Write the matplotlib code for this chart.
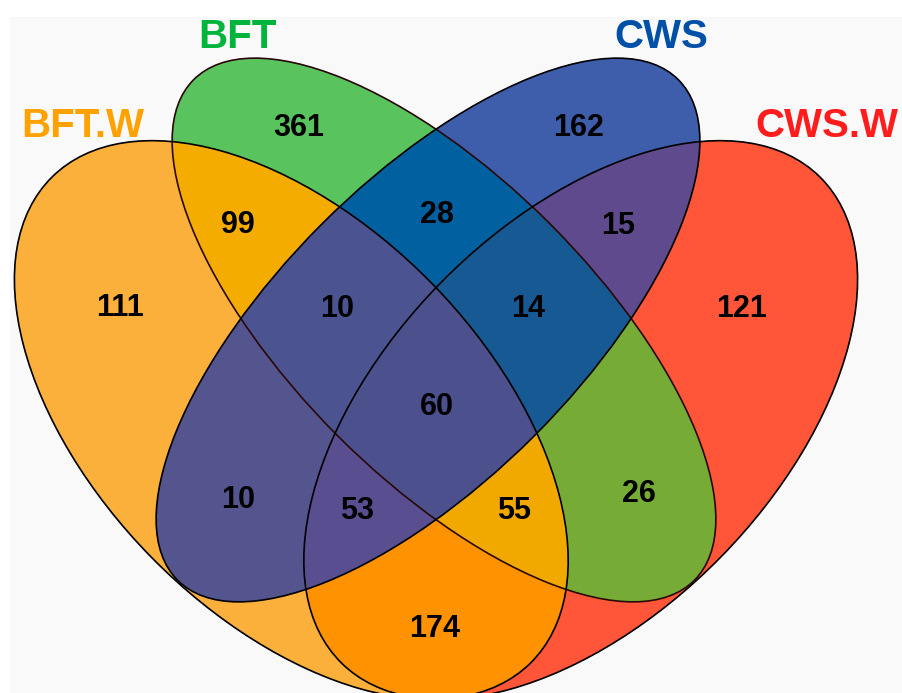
import numpy as np
import matplotlib
matplotlib.use("Agg")
import matplotlib.pyplot as plt
from matplotlib.patches import Ellipse, Rectangle
from matplotlib.colors import to_rgba

# ---------------- data ----------------
set_names = ["BFT.W", "BFT", "CWS", "CWS.W"]
set_label_colors = ["#FFA200", "#00B43C", "#0050A8", "#FF1C1C"]

# membership bits: (BFT.W, BFT, CWS, CWS.W)
region_keys = ["1000", "0100", "0010", "0001",
               "1100", "0110", "0011", "1010", "1001", "0101",
               "1110", "0111", "1111", "1011", "1101"]
region_counts = [111, 361, 162, 121,
                 99, 28, 15, 10, 174, 26,
                 10, 14, 60, 53, 55]
region_colors = ["#FCB03C", "#5AC45E", "#3E5EAC", "#FF563A",
                 "#F4AC00", "#0060A0", "#5F4A8C", "#54548F", "#FF9200", "#77AC36",
                 "#4B5490", "#175A93", "#4C528E", "#5A4E8F", "#F2A900"]

# ---------------- layout (pixel space) ----------------
W, H = 902, 693
ell_cx = [291.3, 444.0, 428.0, 580.7]
ell_cy = [420.0, 330.0, 330.0, 420.0]
ell_a = [341.0, 354.0, 354.0, 341.0]
ell_b = [196.0, 150.0, 150.0, 196.0]
ell_ang = [45.5, 45.0, -45.0, -45.5]
edge_colors = ["#000000", "#2a0808", "#000000", "#000000"]

label_xy = [(120, 305), (299, 125), (579, 125), (742, 306),
            (238, 222), (437, 212), (618, 223), (238, 497), (435, 626), (639, 491),
            (337, 306), (528, 306), (437, 404), (357, 508), (514, 508)]
title_xy = [(83, 122), (237, 33), (661, 33), (827, 122)]

fig = plt.figure(figsize=(W / 100, H / 100), dpi=100)
ax = fig.add_axes([0, 0, 1, 1])
ax.set_xlim(0, W)
ax.set_ylim(H, 0)
ax.axis("off")
fig.patch.set_facecolor("white")

# light grey panel
ax.add_patch(Rectangle((10, 17), W - 10, H - 17, facecolor="#F9F9F9",
                       edgecolor="none", zorder=0))

# region fill via membership raster
ss = 2
xs = (np.arange(W * ss) + 0.5) / ss
ys = (np.arange(H * ss) + 0.5) / ss
X, Y = np.meshgrid(xs, ys)
masks = []
for cx, cy, a, b, ang in zip(ell_cx, ell_cy, ell_a, ell_b, ell_ang):
    th = np.radians(ang)
    dx, dy = X - cx, Y - cy
    u = dx * np.cos(th) + dy * np.sin(th)
    v = -dx * np.sin(th) + dy * np.cos(th)
    masks.append((u / a) ** 2 + (v / b) ** 2 <= 1.0)

img = np.zeros((H * ss, W * ss, 4))
for key, col in zip(region_keys, region_colors):
    m = np.ones_like(masks[0])
    for bit, mk in zip(key, masks):
        m &= mk if bit == "1" else ~mk
    img[m] = to_rgba(col)
ax.imshow(img, extent=(0, W, H, 0), origin="upper", interpolation="antialiased",
          zorder=1)

# outlines
for cx, cy, a, b, ang, ec in zip(ell_cx, ell_cy, ell_a, ell_b, ell_ang, edge_colors):
    ax.add_patch(Ellipse((cx, cy), 2 * a, 2 * b, angle=ang, facecolor="none",
                         edgecolor=ec, linewidth=1.2, zorder=2))

# counts
num_font = ["Liberation Sans Narrow", "Liberation Sans", "DejaVu Sans"]
for (x, y), n in zip(label_xy, region_counts):
    ax.text(x, y + 11.3, str(n), ha="center", va="baseline", fontsize=22,
            fontweight="bold", family=num_font, color="black", zorder=3)

# set names
for (x, y), name, col in zip(title_xy, set_names, set_label_colors):
    ax.text(x, y + 14.8, name, ha="center", va="baseline", fontsize=29,
            fontweight="bold", family=["Liberation Sans", "DejaVu Sans"],
            color=col, zorder=3)

fig.savefig("out.png", dpi=100, facecolor="white")
